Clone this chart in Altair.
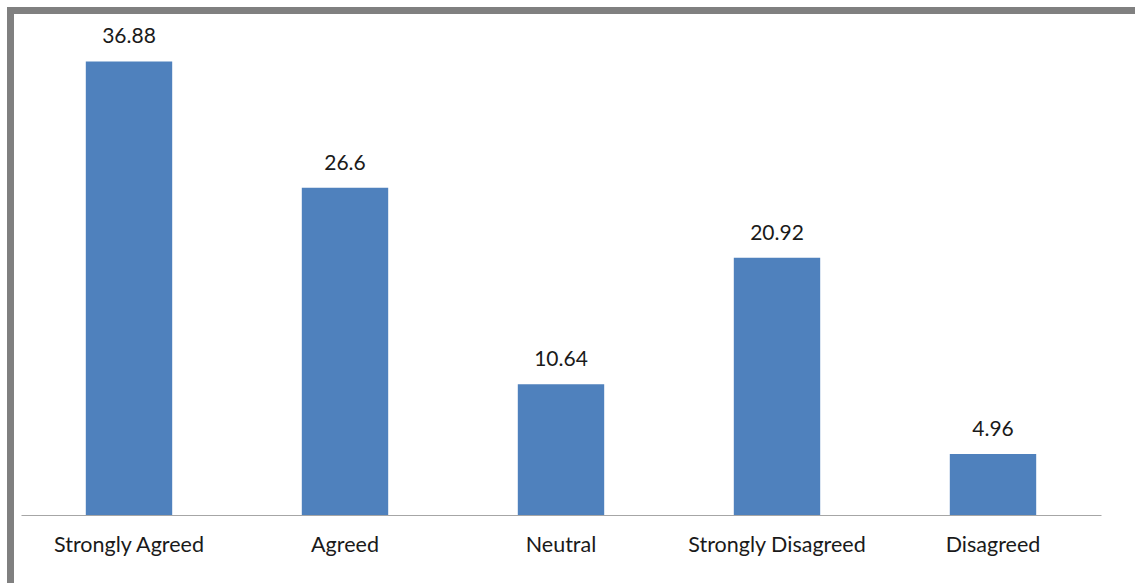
import altair as alt
import pandas as pd

categories = ["Strongly Agreed", "Agreed", "Neutral", "Strongly Disagreed", "Disagreed"]
values = [36.88, 26.6, 10.64, 20.92, 4.96]

df = pd.DataFrame({"category": categories, "value": values})

FONT = "Lato"
base = alt.Chart(df)

x = alt.X("category:N", sort=categories, title=None,
          scale=alt.Scale(paddingInner=0.6, paddingOuter=0.3),
          axis=alt.Axis(labelAngle=0, ticks=False, domainColor="#A6A6A6", domainWidth=1.2,
                        labelFont=FONT, labelFontSize=21.5, labelColor="#1a1a1a",
                        labelPadding=19, grid=False))
y = alt.Y("value:Q", scale=alt.Scale(domain=[0, 40], nice=False), axis=None)

bars = base.mark_bar(color="#4F81BD").encode(x=x, y=y)
labels = base.mark_text(baseline="bottom", dy=-14, font=FONT, fontSize=21, color="#1a1a1a").encode(
    x=alt.X("category:N", sort=categories), y=y, text=alt.Text("value:Q", format="~g"))

frame_data = alt.Data(values=[{"k": 1}])
top_border = alt.Chart(frame_data).mark_rule(color="#808080", strokeWidth=7).encode(
    x=alt.value(-14), x2=alt.value(1120), y=alt.value(-12.5))
left_border = alt.Chart(frame_data).mark_rule(color="#808080", strokeWidth=7).encode(
    x=alt.value(-10.5), y=alt.value(-16), y2=alt.value(570))

chart = alt.layer(bars, labels, top_border, left_border).properties(
    width=1080, height=492,
    autosize=alt.AutoSizeParams(type="none"),
    padding={"left": 21, "top": 23, "right": 34, "bottom": 68},
    background="white",
).configure_view(stroke=None)

chart.save("out.html", embed_options={"renderer": "svg", "actions": False})
